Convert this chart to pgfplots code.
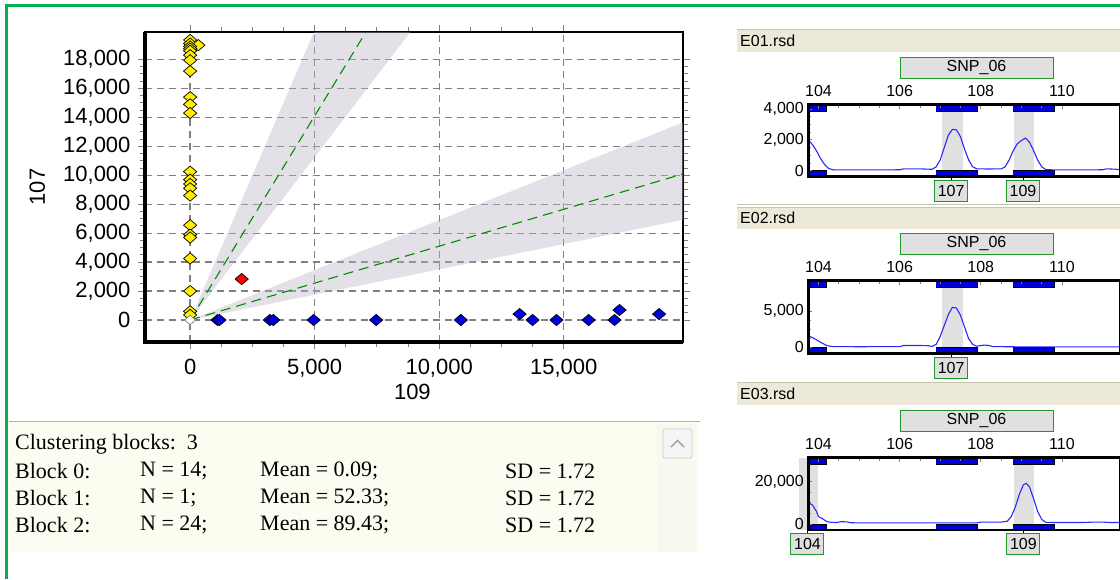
\documentclass[border=0pt]{standalone}
\usepackage{pgfplots}
\pgfplotsset{compat=1.18}
\usepackage{fontspec}
\setmainfont{Liberation Sans}
\newfontfamily\uiserif{Liberation Serif}
\definecolor{bandgray}{RGB}{185,180,195}
\definecolor{dgreen}{RGB}{0,140,0}
\definecolor{framegreen}{RGB}{0,176,80}
\definecolor{hdr}{RGB}{236,233,216}
\definecolor{hdrline}{RGB}{200,196,178}
\definecolor{panelbg}{RGB}{253,252,240}
\definecolor{gridgray}{RGB}{128,128,128}
\definecolor{ylw}{RGB}{255,238,0}
\definecolor{dblue}{RGB}{0,0,220}
\definecolor{pkblue}{RGB}{40,40,255}
\definecolor{shade}{RGB}{224,224,224}
\definecolor{boxgreen}{RGB}{30,150,40}
\definecolor{scrollbg}{RGB}{248,247,240}

\pgfdeclareplotmark{wdiamond*}{%
  \pgfpathmoveto{\pgfqpoint{0pt}{0.85\pgfplotmarksize}}%
  \pgfpathlineto{\pgfqpoint{\pgfplotmarksize}{0pt}}%
  \pgfpathlineto{\pgfqpoint{0pt}{-0.85\pgfplotmarksize}}%
  \pgfpathlineto{\pgfqpoint{-\pgfplotmarksize}{0pt}}%
  \pgfpathclose
  \pgfusepathqfillstroke}

\tikzset{
  lbl/.style={draw=boxgreen, fill=shade, line width=1pt, font=\fontsize{16}{16}\selectfont,
    minimum width=33pt, minimum height=21pt, inner sep=1pt, anchor=north},
  curve/.style={pkblue, line width=1.1pt},
  binbar/.style={fill=dblue, draw=black, line width=0.4pt},
  pkshade/.style={fill=shade, draw=none},
  dmark/.style={mark=wdiamond*, mark size=6.6pt, mark options={fill=#1, draw=black, line width=0.7pt}},
}
\pgfplotsset{
  smallax/.style={
    anchor=south west, scale only axis, width=311.7pt,
    xmin=103.75, xmax=111.43,
    xtick={104,106,108,110}, minor x tick num=3,
    xtick pos=right, xticklabel pos=right, ytick pos=left,
    minor y tick num=3,
    tick align=inside, major tick length=4pt, minor tick length=3pt,
    tick style={gridgray, line width=0.8pt},
    axis line style={black, line width=2.5pt},
    axis on top,
    scaled ticks=false,
    /pgf/number format/assume math mode=true,
    /pgf/number format/1000 sep={,},
    tick label style={font=\fontsize{16}{16}\selectfont},
    xticklabel style={yshift=5pt},
    yticklabel style={xshift=-1pt},
    clip=false,
  },
}

\begin{document}
\begin{tikzpicture}
\useasboundingbox (0pt,0pt) rectangle (1120pt,-579pt);
\fill[white] (0pt,0pt) rectangle (1120pt,-579pt);

% ================= main scatter =================
\begin{axis}[
  at={(145pt,-342pt)}, anchor=south west,
  scale only axis, width=538pt, height=310pt,
  xmin=-1812, xmax=19790, ymin=-1520, ymax=19900,
  xtick={0,5000,10000,15000}, ytick={0,2000,...,18000},
  minor x tick num=3, minor y tick num=3,
  tick align=outside, major tick length=7pt, minor tick length=5pt,
  tick style={gridgray, line width=1pt},
  grid=major,
  major grid style={gridgray, line width=1.3pt, dash pattern=on 7pt off 5pt},
  axis line style={black, line width=1.5pt},
  scaled ticks=false,
  /pgf/number format/assume math mode=true,
  /pgf/number format/1000 sep={,},
  tick label style={font=\fontsize{22}{22}\selectfont},
  yticklabel style={xshift=-4pt},
  xticklabel style={yshift=-7pt},
  xlabel={109}, ylabel={107},
  label style={font=\fontsize{22}{22}\selectfont},
  xlabel style={at={(axis description cs:0.497,-0.16)}, anchor=center},
  ylabel style={at={(axis description cs:-0.2,0.5)}, anchor=center},
  clip=true,
]
% confidence wedges
\addplot[fill=bandgray, fill opacity=0.4, draw=none] coordinates {(0,0) (6000,24000) (10000,22500) (0,0)};
\addplot[fill=bandgray, fill opacity=0.4, draw=none] coordinates {(0,0) (25000,17250) (25000,8750) (0,0)};
% cluster lines
\addplot[dgreen, line width=1.1pt, dash pattern=on 10pt off 6pt] coordinates {(0,0) (8000,22560)};
\addplot[dgreen, line width=1.1pt, dash pattern=on 10pt off 6pt] coordinates {(0,0) (25000,12750)};
% block 2 (yellow)
\addplot[only marks, dmark=ylw] coordinates {
(0,19350)(0,19100)(330,18990)(0,18900)(0,18750)(0,18600)(0,18300)(0,17950)(0,17200)
(0,15400)(0,14900)(0,14300)
(0,10250)(0,9700)(0,9400)(0,9100)(0,8600)
(0,6550)(0,5900)(0,5700)(0,4250)(0,2000)(0,600)(0,350)};
% origin
\addplot[only marks, mark=wdiamond*, mark size=5.5pt, mark options={fill=white, draw=gridgray, line width=0.7pt}] coordinates {(0,0)};
% block 1 (red)
\addplot[only marks, dmark=red] coordinates {(2070,2830)};
% block 0 (blue)
\addplot[only marks, dmark=dblue] coordinates {
(1100,0)(1180,0)(3200,0)(3340,0)(4960,0)(7470,0)(10870,0)(13230,410)(13750,0)(14710,0)(16000,0)(17040,0)(17240,690)(18830,410)};
\end{axis}
\draw[black, line width=3.5pt] (145pt,-32pt) -- (145pt,-342pt) -- (683pt,-342pt);

% ================= info panel =================
\fill[panelbg] (9pt,-422pt) rectangle (698pt,-552pt);
\draw[gray!60, line width=1pt] (9pt,-421pt) -- (700pt,-421pt);
\fill[scrollbg] (657pt,-424pt) rectangle (696pt,-552pt);
\draw[gray!40, fill=gray!8, rounded corners=2pt, line width=0.8pt] (663pt,-429pt) rectangle (692pt,-458pt);
\draw[gray!70, line width=1.6pt] (671pt,-447pt) -- (677.5pt,-440.5pt) -- (684pt,-447pt);
\begin{scope}[every node/.style={anchor=west, inner sep=0pt, font=\uiserif\fontsize{22}{22}\selectfont}]
\node at (15pt,-444pt) {Clustering blocks:\ \ 3};
\node at (15pt,-471pt) {Block 0:};
\node at (140pt,-471pt) {N = 14;};
\node at (260pt,-471pt) {Mean = 0.09;};
\node at (505pt,-471pt) {SD = 1.72};
\node at (15pt,-498pt) {Block 1:};
\node at (140pt,-498pt) {N = 1;};
\node at (260pt,-498pt) {Mean = 52.33;};
\node at (505pt,-498pt) {SD = 1.72};
\node at (15pt,-525pt) {Block 2:};
\node at (140pt,-525pt) {N = 24;};
\node at (260pt,-525pt) {Mean = 89.43;};
\node at (505pt,-525pt) {SD = 1.72};
\end{scope}

% ================= right panels: headers and SNP boxes =================
\fill[hdr] (737pt,-29pt) rectangle (1120pt,-52pt);
\fill[hdr] (737pt,-207pt) rectangle (1120pt,-229pt);
\fill[hdr] (737pt,-382pt) rectangle (1120pt,-405pt);
\draw[hdrline, line width=1pt] (737pt,-29pt) -- (1120pt,-29pt);
\draw[hdrline, line width=1pt] (737pt,-207pt) -- (1120pt,-207pt);
\draw[hdrline, line width=1pt] (737pt,-382pt) -- (1120pt,-382pt);
\draw[hdrline, line width=1pt] (737pt,-204pt) -- (1120pt,-204pt);
\begin{scope}[every node/.style={anchor=west, inner sep=0pt, font=\fontsize{16}{16}\selectfont}]
\node at (740pt,-40.5pt) {E01.rsd};
\node at (740pt,-218pt) {E02.rsd};
\node at (740pt,-393.5pt) {E03.rsd};
\end{scope}
\draw[boxgreen, fill=shade, line width=1pt] (900pt,-57pt) rectangle (1053pt,-78.5pt);
\draw[boxgreen, fill=shade, line width=1pt] (900pt,-233pt) rectangle (1053pt,-254.5pt);
\draw[boxgreen, fill=shade, line width=1pt] (900pt,-410pt) rectangle (1053pt,-431.5pt);
\begin{scope}[every node/.style={font=\fontsize{16}{16}\selectfont}]
\node at (976.5pt,-67.75pt) {SNP\_06};
\node at (976.5pt,-243.75pt) {SNP\_06};
\node at (976.5pt,-420.75pt) {SNP\_06};
\end{scope}

% ================= E01 =================
\begin{axis}[smallax, at={(808.3pt,-176.7pt)}, height=72pt, ymin=-390, ymax=4280, ytick={0,2000,4000}]
\addplot[pkshade] coordinates {(107.05,-390)(107.05,4280)(107.55,4280)(107.55,-390)};
\addplot[pkshade] coordinates {(108.82,-390)(108.82,4280)(109.3,4280)(109.3,-390)};
\addplot[binbar] coordinates {(103.75,3890)(104.2,3890)(104.2,4280)(103.75,4280)};
\addplot[binbar] coordinates {(106.9,3890)(107.9,3890)(107.9,4280)(106.9,4280)};
\addplot[binbar] coordinates {(108.8,3890)(109.8,3890)(109.8,4280)(108.8,4280)};
\addplot[binbar] coordinates {(103.75,-390)(104.2,-390)(104.2,0)(103.75,0)};
\addplot[binbar] coordinates {(106.9,-390)(107.9,-390)(107.9,0)(106.9,0)};
\addplot[binbar] coordinates {(108.8,-390)(109.8,-390)(109.8,0)(108.8,0)};
\addplot[curve, no marks] coordinates {
(103.75,2000)(103.85,1700)(103.95,1300)(104.05,800)(104.15,400)(104.25,150)(104.35,60)(104.5,50)
(105,50)(105.5,50)(106,60)(106.1,120)(106.5,120)(106.7,100)(106.8,90)(106.9,250)(107.0,700)
(107.1,1500)(107.2,2300)(107.3,2680)(107.4,2650)(107.5,2200)(107.6,1400)(107.7,700)(107.8,250)
(107.9,120)(108.2,110)(108.5,120)(108.6,250)(108.7,700)(108.8,1300)(108.9,1750)(109.0,1950)
(109.1,2120)(109.2,1850)(109.3,1300)(109.4,700)(109.5,250)(109.6,80)(109.8,50)(110.5,50)
(111,60)(111.1,120)(111.3,100)(111.43,60)};
\draw[black, line width=0.8pt] (axis cs:107.27,-390) -- ([yshift=-3.5pt]axis cs:107.27,-390);
\node[lbl] at (axis cs:107.27,-390) [yshift=-3.3pt] {107};
\draw[black, line width=0.8pt] (axis cs:109.04,-390) -- ([yshift=-3.5pt]axis cs:109.04,-390);
\node[lbl] at (axis cs:109.04,-390) [yshift=-3.3pt] {109};
\end{axis}

% ================= E02 =================
\begin{axis}[smallax, at={(808.3pt,-353.3pt)}, height=72.6pt, ymin=-826, ymax=9170, ytick={0,5000}]
\addplot[pkshade] coordinates {(107.05,-826)(107.05,9170)(107.55,9170)(107.55,-826)};
\addplot[binbar] coordinates {(103.75,8344)(104.2,8344)(104.2,9170)(103.75,9170)};
\addplot[binbar] coordinates {(106.9,8344)(107.9,8344)(107.9,9170)(106.9,9170)};
\addplot[binbar] coordinates {(108.8,8344)(109.8,8344)(109.8,9170)(108.8,9170)};
\addplot[binbar] coordinates {(103.75,-826)(104.2,-826)(104.2,0)(103.75,0)};
\addplot[binbar] coordinates {(106.9,-826)(107.9,-826)(107.9,0)(106.9,0)};
\addplot[binbar] coordinates {(108.8,-826)(109.8,-826)(109.8,0)(108.8,0)};
\addplot[curve, no marks] coordinates {
(103.75,1600)(103.9,1200)(104.05,700)(104.2,250)(104.35,100)(105,80)(106,100)(106.1,250)
(106.5,250)(106.7,220)(106.8,120)(106.9,400)(107.0,1500)(107.1,3000)(107.2,4500)(107.3,5500)
(107.4,5400)(107.5,4400)(107.6,2800)(107.7,1200)(107.8,400)(107.9,150)(108.0,250)(108.1,300)
(108.2,250)(108.3,100)(109,60)(110,60)(111.43,60)};
\draw[black, line width=0.8pt] (axis cs:107.27,-826) -- ([yshift=-3.5pt]axis cs:107.27,-826);
\node[lbl] at (axis cs:107.27,-826) [yshift=-3.3pt] {107};
\end{axis}

% ================= E03 =================
\begin{axis}[smallax, at={(808.3pt,-530pt)}, height=72.3pt, ymin=-2840, ymax=31300, ytick={0,20000}]
\addplot[pkshade] coordinates {(103.52,-2840)(103.52,31300)(104.0,31300)(104.0,-2840)};
\addplot[pkshade] coordinates {(108.82,-2840)(108.82,31300)(109.3,31300)(109.3,-2840)};
\addplot[binbar] coordinates {(103.75,28470)(104.2,28470)(104.2,31300)(103.75,31300)};
\addplot[binbar] coordinates {(106.9,28470)(107.9,28470)(107.9,31300)(106.9,31300)};
\addplot[binbar] coordinates {(108.8,28470)(109.8,28470)(109.8,31300)(108.8,31300)};
\addplot[binbar] coordinates {(103.75,-2840)(104.2,-2840)(104.2,0)(103.75,0)};
\addplot[binbar] coordinates {(106.9,-2840)(107.9,-2840)(107.9,0)(106.9,0)};
\addplot[binbar] coordinates {(108.8,-2840)(109.8,-2840)(109.8,0)(108.8,0)};
\addplot[curve, no marks] coordinates {
(103.75,10000)(103.85,9000)(103.95,6000)(104.0,3500)(104.1,2500)(104.2,1200)(104.3,800)
(104.45,700)(104.55,1100)(104.7,1000)(104.8,600)(105,500)(106,500)(107,500)(107.9,500)
(108.0,900)(108.5,900)(108.65,1300)(108.75,3500)(108.85,8000)(108.95,14000)(109.05,18500)
(109.12,19200)(109.2,17500)(109.3,12000)(109.4,6000)(109.5,2200)(109.6,800)(109.8,700)
(110.5,700)(110.8,900)(111.0,900)(111.2,700)(111.43,700)};
\draw[black, line width=0.8pt] (axis cs:103.73,-2840) -- ([yshift=-3.5pt]axis cs:103.73,-2840);
\node[lbl] at (axis cs:103.73,-2840) [yshift=-3.3pt] {104};
\draw[black, line width=0.8pt] (axis cs:109.05,-2840) -- ([yshift=-3.5pt]axis cs:109.05,-2840);
\node[lbl] at (axis cs:109.05,-2840) [yshift=-3.3pt] {109};
\end{axis}

% ================= window frame =================
\fill[framegreen] (5pt,-4pt) rectangle (1120pt,-6.8pt);
\fill[framegreen] (5pt,-4pt) rectangle (7.5pt,-579pt);
\end{tikzpicture}
\end{document}
